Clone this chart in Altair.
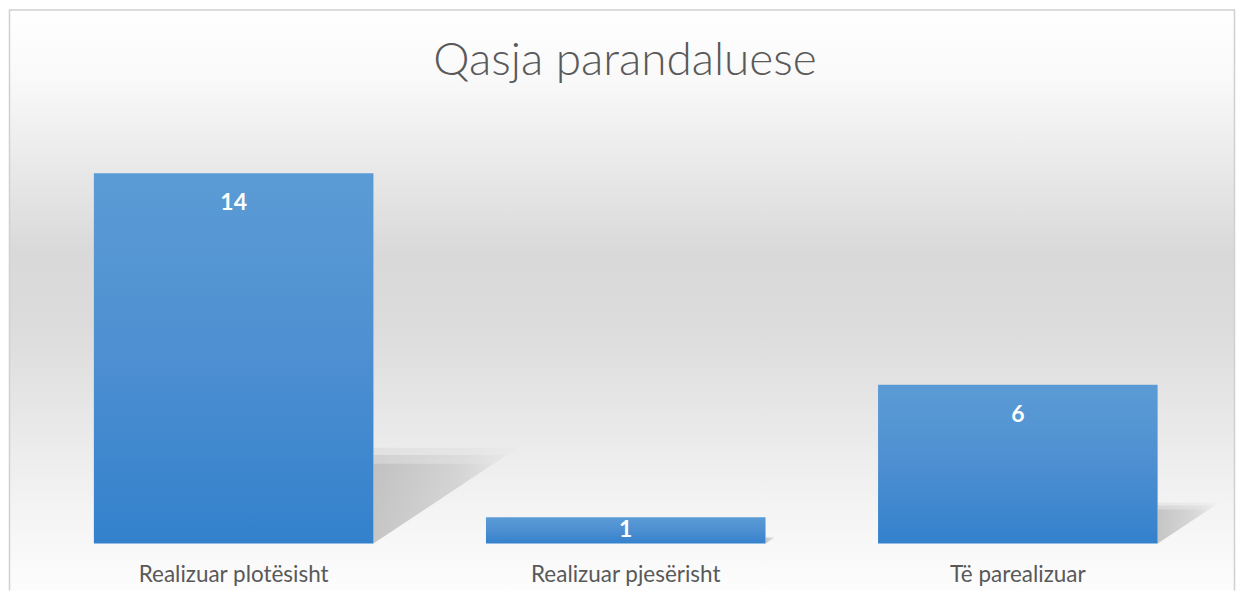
import altair as alt
import pandas as pd

categories = ["Realizuar plotësisht", "Realizuar pjesërisht", "Të parealizuar"]
values = [14, 1, 6]
title_text = "Qasja parandaluese"

W, H = 1228, 582
PX_PER_UNIT = 26.5
BASE = 535

df = pd.DataFrame({"cat": categories, "val": values})

xscale = alt.Scale(domain=categories, range=[28.65, 1206.85], paddingInner=0.287, paddingOuter=0.1435)
yscale = alt.Scale(domain=[0, 20], range=[BASE, BASE - 20 * PX_PER_UNIT])

one = pd.DataFrame({"a": [0]})

bg = alt.Chart(one).mark_rect(
    color=alt.Gradient(
        gradient="linear", x1=0, y1=0, x2=0, y2=1,
        stops=[
            alt.GradientStop(offset=0, color="#ffffff"),
            alt.GradientStop(offset=0.12, color="#f9f9f9"),
            alt.GradientStop(offset=0.42, color="#d9d9d9"),
            alt.GradientStop(offset=0.55, color="#dcdcdc"),
            alt.GradientStop(offset=0.85, color="#f3f3f3"),
            alt.GradientStop(offset=1, color="#fdfdfd"),
        ],
    )
).encode(x=alt.value(0), x2=alt.value(W), y=alt.value(0), y2=alt.value(H))

bl = alt.Chart(one).mark_rule(color="#d0d0d0", strokeWidth=1.5).encode(
    x=alt.value(0), x2=alt.value(W), y=alt.value(0.5), y2=alt.value(0.5))
bleft = alt.Chart(one).mark_rule(color="#d0d0d0", strokeWidth=1.5).encode(
    x=alt.value(0.5), x2=alt.value(0.5), y=alt.value(0), y2=alt.value(H))
bright = alt.Chart(one).mark_rule(color="#d0d0d0", strokeWidth=1.5).encode(
    x=alt.value(W - 0.5), x2=alt.value(W - 0.5), y=alt.value(0), y2=alt.value(H))

base = alt.Chart(df)


def shadow_layer(k, op):
    return base.transform_calculate(
        sz="pow(datum.val * %f * 0.36 * %f, 2)" % (PX_PER_UNIT, k), zero="0"
    ).mark_point(
        shape="M 0 0 L 0 -1.33 L 2 -1.33 Z",
        filled=True,
        strokeWidth=0,
        opacity=op,
        color=alt.Gradient(
            gradient="linear", x1=0, y1=0, x2=1, y2=0,
            stops=[
                alt.GradientStop(offset=0, color="#8f8f8f"),
                alt.GradientStop(offset=0.7, color="#b8b8b8"),
                alt.GradientStop(offset=1, color="#dedede"),
            ],
        ),
    ).encode(
        x=alt.X("cat:N", scale=xscale, bandPosition=1, axis=None),
        y=alt.Y("zero:Q", scale=yscale, axis=None),
        size=alt.Size("sz:Q", scale=None, legend=None),
    )


shadows = [shadow_layer(1.08, 0.12), shadow_layer(1.0, 0.2), shadow_layer(0.9, 0.25)]

bars = base.mark_bar(
    color=alt.Gradient(
        gradient="linear", x1=0, y1=0, x2=0, y2=1,
        stops=[
            alt.GradientStop(offset=0, color="#5b9bd5"),
            alt.GradientStop(offset=0.5, color="#4d8fd1"),
            alt.GradientStop(offset=1, color="#3381cc"),
        ],
    )
).encode(
    x=alt.X("cat:N", scale=xscale, axis=None),
    y=alt.Y("val:Q", scale=yscale, axis=None),
)

vlabels = base.transform_calculate(
    lv="max(datum.val - 30 / %f, datum.val / 2)" % PX_PER_UNIT
).mark_text(
    color="white", fontWeight="bold", font="Lato", fontSize=23, baseline="middle"
).encode(
    x=alt.X("cat:N", scale=xscale, axis=None),
    y=alt.Y("lv:Q", scale=yscale, axis=None),
    text="val:Q",
)

clabels = base.mark_text(
    color="#595959", font="Lato", fontSize=22.5, baseline="middle"
).encode(
    x=alt.X("cat:N", scale=xscale, axis=None),
    y=alt.value(566),
    text="cat:N",
)

title = alt.Chart(pd.DataFrame({"t": [title_text]})).mark_text(
    color="#595959", font="Lato", fontSize=46, fontWeight=300, baseline="middle"
).encode(x=alt.value(617), y=alt.value(52), text="t:N")

chart = alt.layer(bg, *shadows, bars, vlabels, clabels, title, bl, bleft, bright).properties(
    width=W, height=H, padding=0
).configure_view(stroke=None)

chart.save("out.html", embed_options={"renderer": "svg", "actions": False})
